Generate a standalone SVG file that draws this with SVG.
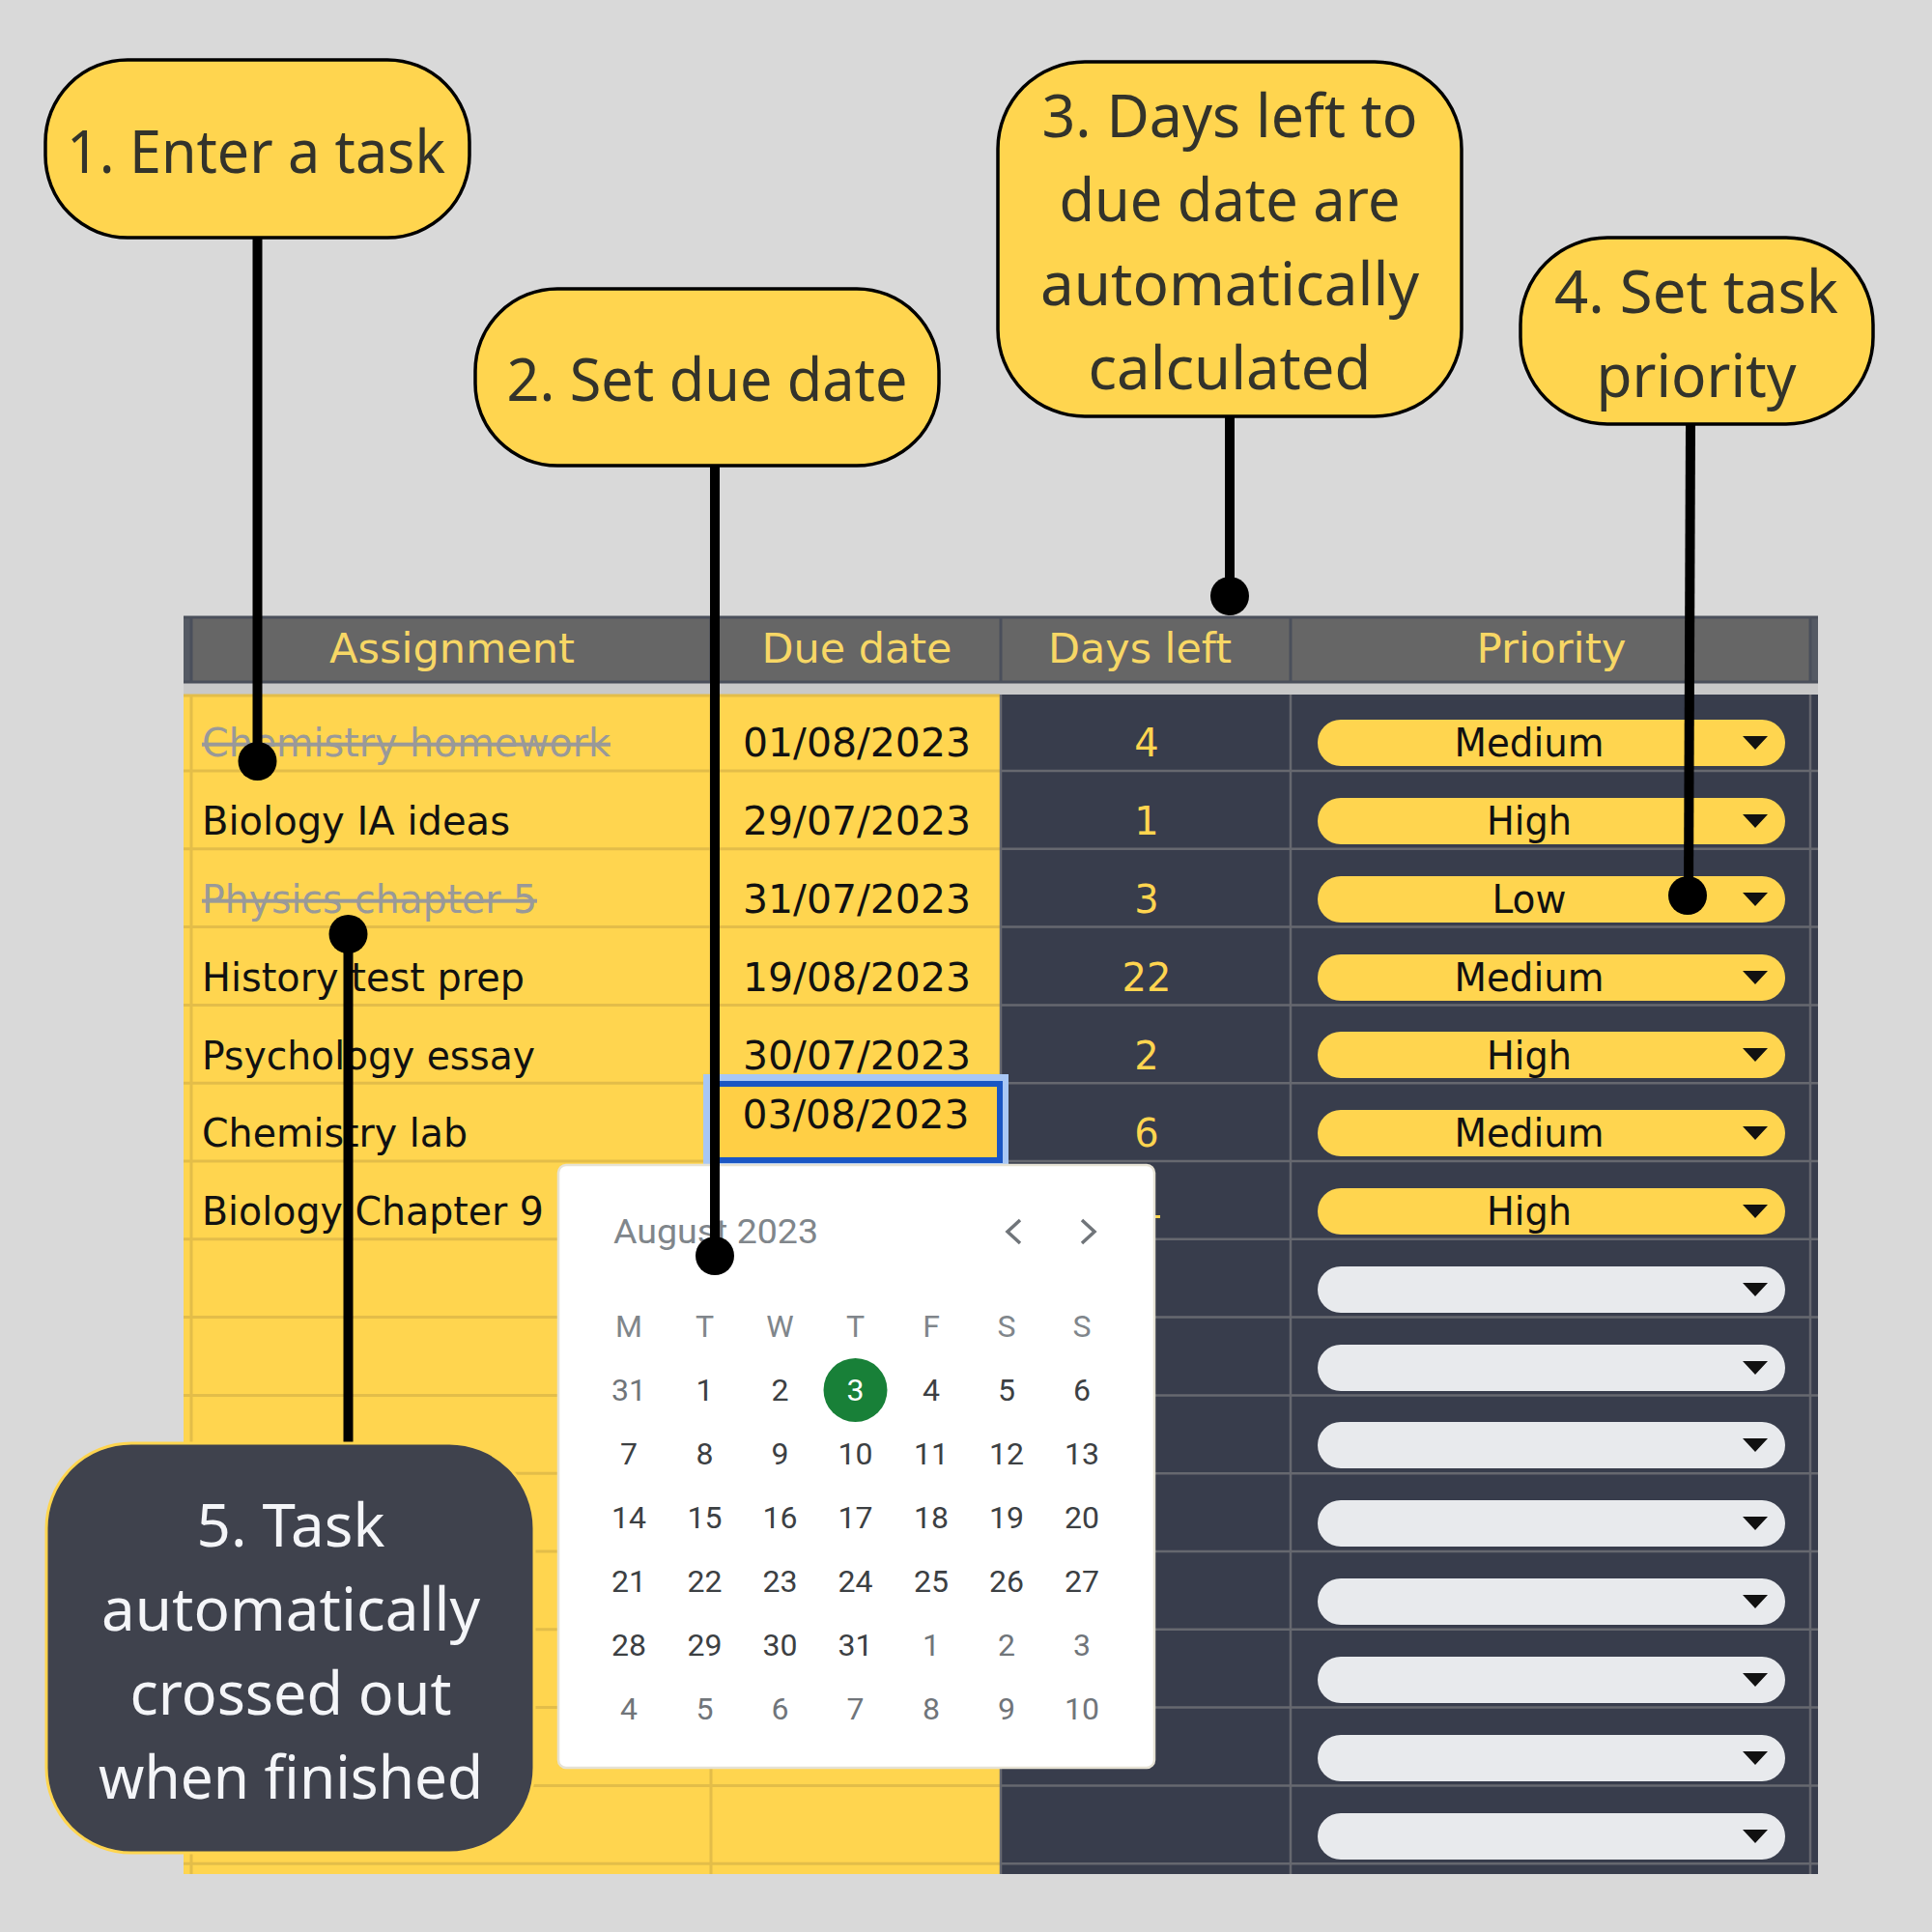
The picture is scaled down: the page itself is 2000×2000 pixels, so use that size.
<svg xmlns="http://www.w3.org/2000/svg" width="2000" height="2000" viewBox="0 0 2000 2000">
<style>
.call{fill:#ffd54f;stroke:#000;stroke-width:3.5}
.ct{font-family:"Noto Sans","Open Sans",sans-serif;font-size:62px;fill:#33332b;text-anchor:middle}
.cw{fill:#f4f5f8}
.conn{stroke:#000;stroke-width:10;fill:none}
.gy{stroke:#e3bd49;stroke-width:3;fill:none}
.gd{stroke:#66686f;stroke-width:2.5;fill:none}
.hl{stroke:#4a4f5b;stroke-width:3;fill:none}
.t{font-family:"DejaVu Sans",sans-serif;font-size:40px;fill:#111}
.c{text-anchor:middle}
.done{fill:#999;text-decoration:line-through}
.h{font-family:"DejaVu Sans",sans-serif;font-size:43px;fill:#f7d765;text-anchor:middle}
.d{font-family:"DejaVu Sans",sans-serif;font-size:40px;fill:#ffd54f;text-anchor:middle}
.py{fill:#ffd54f}
.pg{fill:#e8eaed}
.cal{font-family:Roboto,sans-serif;font-size:32px;fill:#3c4043;text-anchor:middle}
.wk{fill:#80868b}
.o{fill:#70757a}
</style>
<rect width="2000" height="2000" fill="#d9d9d9"/>
<g id="table">
<rect x="190" y="638" width="1692" height="69" fill="#666"/>
<rect x="190" y="638" width="8" height="69" fill="#555a64"/>
<rect x="1874" y="638" width="8" height="69" fill="#555a64"/>
<rect x="190" y="707" width="1692" height="12" fill="#c9c9c9"/>
<rect x="190" y="719" width="845" height="1221" fill="#ffd54f"/>
<rect x="1035" y="719" width="847" height="1221" fill="#383d4c"/>
<path class="hl" d="M190 639H1882M190 706H1882M198 638V707M736 638V707M1036 638V707M1336 638V707M1874 638V707"/>
<path class="gy" d="M190 720H1035M190 798H1035M190 878.8H1035M190 959.6H1035M190 1040.4H1035M190 1121.2H1035M190 1202H1035M190 1282.8H1035M190 1363.6H1035M190 1444.4H1035M190 1525.2H1035M190 1606H1035M190 1686.8H1035M190 1767.6H1035M190 1848.4H1035M190 1929.2H1035M198 719V1940M736 719V1940"/>
<path class="gd" d="M1036 798H1882M1036 878.8H1882M1036 959.6H1882M1036 1040.4H1882M1036 1121.2H1882M1036 1202H1882M1036 1282.8H1882M1036 1363.6H1882M1036 1444.4H1882M1036 1525.2H1882M1036 1606H1882M1036 1686.8H1882M1036 1767.6H1882M1036 1848.4H1882M1036 1929.2H1882M1036 719V1940M1336 719V1940M1874 719V1940"/>
<text class="h" x="468" y="686" textLength="254" lengthAdjust="spacingAndGlyphs">Assignment</text>
<text class="h" x="887" y="686" textLength="197" lengthAdjust="spacingAndGlyphs">Due date</text>
<text class="h" x="1180" y="686" textLength="190" lengthAdjust="spacingAndGlyphs">Days left</text>
<text class="h" x="1606" y="686" textLength="155" lengthAdjust="spacingAndGlyphs">Priority</text>

<text class="t done" x="209" y="783" textLength="423" lengthAdjust="spacingAndGlyphs">Chemistry homework</text>
<text class="t" x="209" y="864" textLength="319" lengthAdjust="spacingAndGlyphs">Biology IA ideas</text>
<text class="t done" x="209" y="945" textLength="347" lengthAdjust="spacingAndGlyphs">Physics chapter 5</text>
<text class="t" x="209" y="1026" textLength="334" lengthAdjust="spacingAndGlyphs">History test prep</text>
<text class="t" x="209" y="1107" textLength="345" lengthAdjust="spacingAndGlyphs">Psychology essay</text>
<text class="t" x="209" y="1187" textLength="275" lengthAdjust="spacingAndGlyphs">Chemistry lab</text>
<text class="t" x="209" y="1268" textLength="354" lengthAdjust="spacingAndGlyphs">Biology Chapter 9</text>

<text class="t c" x="887" y="783" textLength="236" lengthAdjust="spacingAndGlyphs">01/08/2023</text>
<text class="t c" x="887" y="864" textLength="236" lengthAdjust="spacingAndGlyphs">29/07/2023</text>
<text class="t c" x="887" y="945" textLength="236" lengthAdjust="spacingAndGlyphs">31/07/2023</text>
<text class="t c" x="887" y="1026" textLength="236" lengthAdjust="spacingAndGlyphs">19/08/2023</text>
<text class="t c" x="887" y="1107" textLength="236" lengthAdjust="spacingAndGlyphs">30/07/2023</text>

<text class="d" x="1187" y="783">4</text>
<text class="d" x="1187" y="864">1</text>
<text class="d" x="1187" y="945">3</text>
<text class="d" x="1187" y="1026">22</text>
<text class="d" x="1187" y="1107">2</text>
<text class="d" x="1187" y="1187">6</text>
<rect x="1196" y="1258" width="5" height="3" fill="#ffd54f"/>

<g id="selected-cell">
<rect x="728" y="1112" width="316" height="95" fill="#a8c7f5"/>
<rect x="738" y="1122" width="297" height="79" fill="#ffcf45" stroke="#1a56c4" stroke-width="6"/>
<text class="t c" x="886" y="1168" textLength="235" lengthAdjust="spacingAndGlyphs">03/08/2023</text>
</g>

<g id="priority-pills">
<rect class="py" x="1364" y="745" width="484" height="48" rx="24"/>
<rect class="py" x="1364" y="826" width="484" height="48" rx="24"/>
<rect class="py" x="1364" y="907" width="484" height="48" rx="24"/>
<rect class="py" x="1364" y="988" width="484" height="48" rx="24"/>
<rect class="py" x="1364" y="1068" width="484" height="48" rx="24"/>
<rect class="py" x="1364" y="1149" width="484" height="48" rx="24"/>
<rect class="py" x="1364" y="1230" width="484" height="48" rx="24"/>
<rect class="pg" x="1364" y="1311" width="484" height="48" rx="24"/>
<rect class="pg" x="1364" y="1392" width="484" height="48" rx="24"/>
<rect class="pg" x="1364" y="1472" width="484" height="48" rx="24"/>
<rect class="pg" x="1364" y="1553" width="484" height="48" rx="24"/>
<rect class="pg" x="1364" y="1634" width="484" height="48" rx="24"/>
<rect class="pg" x="1364" y="1715" width="484" height="48" rx="24"/>
<rect class="pg" x="1364" y="1796" width="484" height="48" rx="24"/>
<rect class="pg" x="1364" y="1877" width="484" height="48" rx="24"/>
<path fill="#111" d="M1804 762h26l-13 14zM1804 843h26l-13 14zM1804 924h26l-13 14zM1804 1005h26l-13 14zM1804 1085h26l-13 14zM1804 1166h26l-13 14zM1804 1247h26l-13 14zM1804 1328h26l-13 14zM1804 1409h26l-13 14zM1804 1489h26l-13 14zM1804 1570h26l-13 14zM1804 1651h26l-13 14zM1804 1732h26l-13 14zM1804 1813h26l-13 14zM1804 1894h26l-13 14z"/>
<text class="t c" x="1583" y="783" textLength="155" lengthAdjust="spacingAndGlyphs">Medium</text>
<text class="t c" x="1583" y="864" textLength="88" lengthAdjust="spacingAndGlyphs">High</text>
<text class="t c" x="1583" y="945" textLength="77" lengthAdjust="spacingAndGlyphs">Low</text>
<text class="t c" x="1583" y="1026" textLength="155" lengthAdjust="spacingAndGlyphs">Medium</text>
<text class="t c" x="1583" y="1107" textLength="88" lengthAdjust="spacingAndGlyphs">High</text>
<text class="t c" x="1583" y="1187" textLength="155" lengthAdjust="spacingAndGlyphs">Medium</text>
<text class="t c" x="1583" y="1268" textLength="88" lengthAdjust="spacingAndGlyphs">High</text>
</g>
</g>

<g id="calendar">
<rect x="578" y="1206" width="617" height="624" rx="8" fill="#fff" stroke="#e6e2d4" stroke-width="2.500"/>
<text class="cal" style="text-anchor:start;font-size:35px;fill:#80868b" x="635" y="1287" textLength="212" lengthAdjust="spacingAndGlyphs">August 2023</text>
<path d="M1056 1263L1043 1275L1056 1287M1120 1263L1133 1275L1120 1287" fill="none" stroke="#70757a" stroke-width="3.500"/>
<text class="cal wk" x="651" y="1384">M</text><text class="cal wk" x="729.500" y="1384">T</text><text class="cal wk" x="807.500" y="1384">W</text><text class="cal wk" x="885.500" y="1384">T</text><text class="cal wk" x="964" y="1384">F</text><text class="cal wk" x="1042" y="1384">S</text><text class="cal wk" x="1120" y="1384">S</text>
<circle cx="885.500" cy="1439" r="33" fill="#188038"/>
<text class="cal o" x="651" y="1450">31</text><text class="cal" x="729.500" y="1450">1</text><text class="cal" x="807.500" y="1450">2</text><text class="cal" style="fill:#fff" x="885.500" y="1450">3</text><text class="cal" x="964" y="1450">4</text><text class="cal" x="1042" y="1450">5</text><text class="cal" x="1120" y="1450">6</text>
<text class="cal" x="651" y="1516">7</text><text class="cal" x="729.500" y="1516">8</text><text class="cal" x="807.500" y="1516">9</text><text class="cal" x="885.500" y="1516">10</text><text class="cal" x="964" y="1516">11</text><text class="cal" x="1042" y="1516">12</text><text class="cal" x="1120" y="1516">13</text>
<text class="cal" x="651" y="1582">14</text><text class="cal" x="729.500" y="1582">15</text><text class="cal" x="807.500" y="1582">16</text><text class="cal" x="885.500" y="1582">17</text><text class="cal" x="964" y="1582">18</text><text class="cal" x="1042" y="1582">19</text><text class="cal" x="1120" y="1582">20</text>
<text class="cal" x="651" y="1648">21</text><text class="cal" x="729.500" y="1648">22</text><text class="cal" x="807.500" y="1648">23</text><text class="cal" x="885.500" y="1648">24</text><text class="cal" x="964" y="1648">25</text><text class="cal" x="1042" y="1648">26</text><text class="cal" x="1120" y="1648">27</text>
<text class="cal" x="651" y="1714">28</text><text class="cal" x="729.500" y="1714">29</text><text class="cal" x="807.500" y="1714">30</text><text class="cal" x="885.500" y="1714">31</text><text class="cal o" x="964" y="1714">1</text><text class="cal o" x="1042" y="1714">2</text><text class="cal o" x="1120" y="1714">3</text>
<text class="cal o" x="651" y="1780">4</text><text class="cal o" x="729.500" y="1780">5</text><text class="cal o" x="807.500" y="1780">6</text><text class="cal o" x="885.500" y="1780">7</text><text class="cal o" x="964" y="1780">8</text><text class="cal o" x="1042" y="1780">9</text><text class="cal o" x="1120" y="1780">10</text>
</g>

<g id="connectors">
<path class="conn" d="M266.500 246V788"/><circle cx="266.500" cy="788" r="20"/>
<path class="conn" d="M740 482V1300"/><circle cx="740" cy="1300" r="20"/>
<path class="conn" d="M1273 431V617"/><circle cx="1273" cy="617" r="20"/>
<path class="conn" d="M1750 439L1748 927"/><circle cx="1747" cy="927" r="20"/>
<path class="conn" d="M360.500 1493V967"/><circle cx="360.500" cy="967" r="20"/>
</g>

<g id="callout-1">
<rect class="call" x="47" y="62" width="439" height="184" rx="85"/>
<text class="ct" x="265" y="179" textLength="392" lengthAdjust="spacingAndGlyphs">1. Enter a task</text>
</g>
<g id="callout-2">
<rect class="call" x="492" y="299" width="480" height="183" rx="85"/>
<text class="ct" x="732" y="415" textLength="415" lengthAdjust="spacingAndGlyphs">2. Set due date</text>
</g>
<g id="callout-3">
<rect class="call" x="1033" y="64" width="480" height="367" rx="90"/>
<text class="ct" x="1273" y="142" textLength="389" lengthAdjust="spacingAndGlyphs">3. Days left to</text>
<text class="ct" x="1273" y="229" textLength="353" lengthAdjust="spacingAndGlyphs">due date are</text>
<text class="ct" x="1273" y="316" textLength="392" lengthAdjust="spacingAndGlyphs">automatically</text>
<text class="ct" x="1273" y="403" textLength="293" lengthAdjust="spacingAndGlyphs">calculated</text>
</g>
<g id="callout-4">
<rect class="call" x="1574" y="246" width="365" height="193" rx="90"/>
<text class="ct" x="1756" y="324" textLength="294" lengthAdjust="spacingAndGlyphs">4. Set task</text>
<text class="ct" x="1756" y="411" textLength="207" lengthAdjust="spacingAndGlyphs">priority</text>
</g>
<g id="callout-5">
<rect x="48" y="1494" width="505" height="424" rx="88" fill="#3f424d" stroke="#ffd54f" stroke-width="3"/>
<text class="ct cw" x="301" y="1601" textLength="195" lengthAdjust="spacingAndGlyphs">5. Task</text>
<text class="ct cw" x="301" y="1688" textLength="392" lengthAdjust="spacingAndGlyphs">automatically</text>
<text class="ct cw" x="301" y="1775" textLength="333" lengthAdjust="spacingAndGlyphs">crossed out</text>
<text class="ct cw" x="301" y="1862" textLength="398" lengthAdjust="spacingAndGlyphs">when finished</text>
</g>
</svg>
